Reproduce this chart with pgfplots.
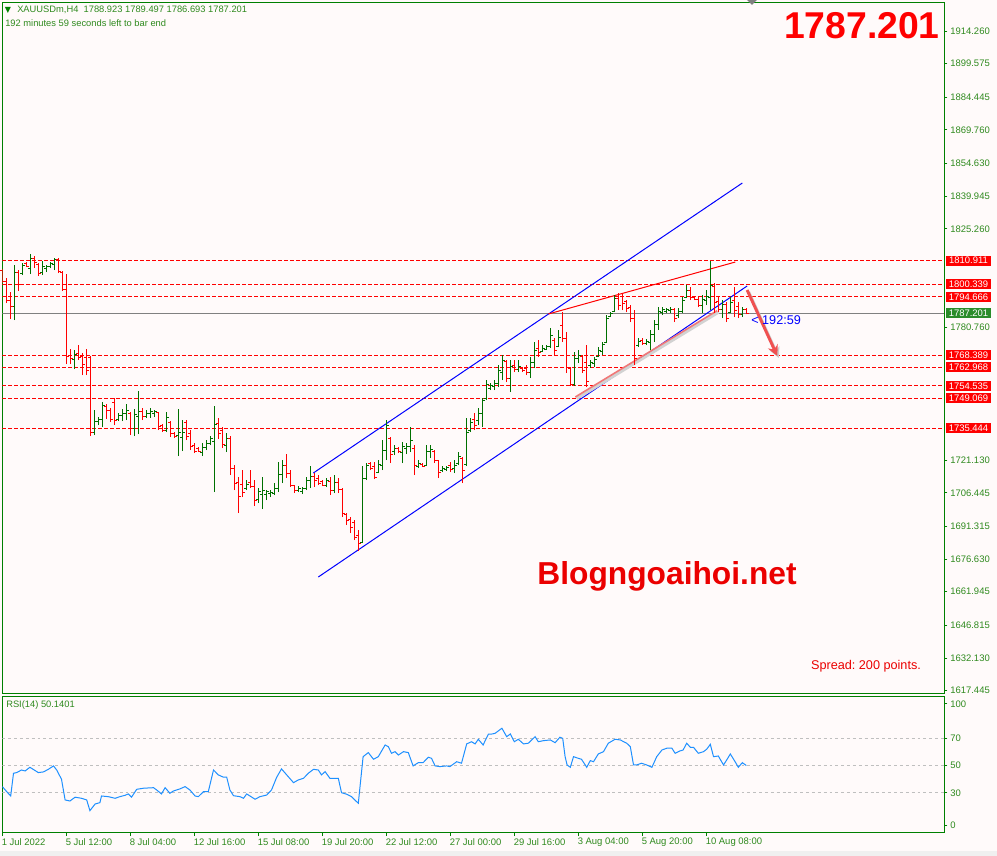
\documentclass[border=0pt]{standalone}
\usepackage{fontspec}
\setmainfont{Liberation Sans}
\newfontfamily\dejavu{DejaVu Sans}
\usepackage{pgfplots}
\usepackage{pgfplotstable}
\pgfplotsset{compat=1.18}
\usetikzlibrary{arrows.meta}

\definecolor{bg}{HTML}{FFFAFA}
\definecolor{fg}{HTML}{008000}
\definecolor{lbl}{HTML}{2F8A1E}
\definecolor{bull}{HTML}{007000}
\definecolor{bear}{HTML}{FF0000}
\definecolor{rsiblue}{HTML}{1E90FF}
\definecolor{arrowred}{HTML}{F05050}
\definecolor{pinkline}{HTML}{F07878}
\definecolor{pricebox}{HTML}{2A8C2A}

% H4 bars: index, open, high, low, close
\pgfplotstableread{
i o h l c
0 1806.70 1807.15 1800.85 1801.75
1 1801.75 1803.10 1791.85 1793.20
2 1793.20 1796.80 1784.65 1790.50
3 1790.50 1808.95 1784.20 1805.80
4 1805.80 1806.70 1797.25 1800.40
5 1805.35 1809.85 1804.45 1808.95
6 1809.85 1810.30 1808.05 1808.50
7 1807.60 1813.90 1804.90 1812.10
8 1812.10 1813.00 1807.60 1810.30
9 1809.40 1809.85 1804.00 1805.35
10 1805.80 1810.75 1804.45 1808.50
11 1807.60 1808.95 1805.80 1808.50
12 1808.50 1810.30 1807.60 1809.85
13 1809.40 1812.10 1806.70 1811.65
14 1811.65 1812.10 1805.35 1806.25
15 1805.80 1806.25 1797.25 1798.15
16 1798.15 1804.90 1764.40 1768.00
17 1768.45 1771.15 1764.40 1767.10
18 1766.65 1770.70 1762.15 1768.90
19 1769.35 1772.95 1766.20 1767.55
20 1768.00 1769.35 1759.45 1764.40
21 1767.55 1771.15 1759.45 1761.70
22 1767.55 1768.00 1732.00 1733.80
23 1733.80 1743.70 1732.45 1738.75
24 1738.75 1740.55 1736.95 1739.65
25 1739.65 1747.30 1736.05 1745.95
26 1745.50 1746.40 1739.65 1743.70
27 1743.70 1744.60 1738.30 1739.65
28 1747.30 1749.10 1736.95 1739.20
29 1739.65 1742.35 1738.75 1741.45
30 1741.45 1744.15 1738.75 1742.35
31 1742.35 1746.40 1739.20 1743.70
32 1742.35 1742.80 1732.45 1735.60
33 1735.60 1744.15 1732.00 1741.90
34 1741.00 1752.25 1732.90 1743.25
35 1743.25 1744.60 1739.20 1741.00
36 1741.00 1743.70 1740.10 1742.35
37 1742.35 1744.60 1740.10 1743.25
38 1742.35 1743.70 1740.55 1743.25
39 1742.80 1742.80 1734.70 1736.50
40 1736.95 1737.40 1733.80 1734.70
41 1734.70 1742.80 1733.80 1740.55
42 1738.30 1738.75 1731.55 1733.35
43 1733.35 1733.80 1731.10 1732.00
44 1732.45 1744.15 1723.00 1733.80
45 1731.55 1739.20 1725.25 1733.80
46 1738.30 1739.20 1730.20 1732.00
47 1733.35 1734.70 1725.70 1727.50
48 1727.95 1728.85 1724.35 1725.25
49 1726.60 1727.05 1724.80 1725.25
50 1724.80 1728.85 1723.00 1727.05
51 1727.05 1730.20 1725.70 1728.85
52 1728.85 1732.00 1727.95 1731.10
53 1729.75 1745.50 1706.80 1737.40
54 1737.85 1740.10 1730.65 1733.35
55 1734.70 1736.05 1726.60 1728.40
56 1727.95 1733.35 1724.80 1731.10
57 1731.10 1732.00 1714.45 1717.60
58 1717.60 1718.95 1707.70 1710.85
59 1711.30 1713.55 1697.35 1705.00
60 1710.40 1716.70 1704.55 1706.80
61 1708.60 1712.20 1707.70 1710.40
62 1711.30 1716.70 1708.60 1709.50
63 1709.50 1712.20 1700.50 1703.20
64 1703.65 1708.60 1701.85 1707.25
65 1705.90 1713.55 1699.15 1707.70
66 1705.90 1707.70 1703.20 1707.25
67 1706.35 1707.70 1704.55 1706.80
68 1706.35 1710.85 1705.45 1708.60
69 1708.60 1720.30 1706.80 1714.90
70 1714.90 1721.20 1710.85 1718.95
71 1718.95 1723.90 1713.10 1715.35
72 1715.35 1716.70 1709.05 1709.95
73 1709.95 1709.95 1706.35 1707.70
74 1707.70 1709.50 1706.80 1708.60
75 1707.25 1709.05 1705.90 1708.60
76 1708.60 1713.55 1707.70 1712.20
77 1712.20 1718.50 1708.60 1714.00
78 1714.00 1715.35 1709.05 1712.20
79 1713.10 1714.45 1709.95 1710.85
80 1711.75 1712.20 1709.50 1709.95
81 1709.95 1713.10 1709.05 1712.20
82 1711.75 1713.55 1705.45 1707.70
83 1707.70 1714.45 1706.35 1711.30
84 1711.30 1713.10 1706.35 1708.15
85 1708.15 1708.60 1695.55 1697.35
86 1696.90 1697.35 1691.95 1694.20
87 1694.65 1695.55 1688.35 1691.05
88 1693.30 1694.20 1685.20 1686.55
89 1687.45 1689.70 1680.25 1683.85
90 1684.30 1718.50 1683.85 1713.10
91 1713.10 1719.85 1712.20 1718.95
92 1719.85 1720.30 1716.70 1717.60
93 1718.50 1720.30 1712.65 1713.55
94 1715.80 1721.20 1715.35 1719.40
95 1718.95 1730.20 1716.70 1725.70
96 1725.70 1739.20 1721.20 1736.95
97 1731.10 1731.55 1719.85 1723.90
98 1725.25 1727.95 1723.45 1726.60
99 1726.60 1727.05 1724.35 1725.25
100 1724.80 1729.30 1719.85 1727.50
101 1726.60 1728.85 1723.90 1727.50
102 1727.50 1736.05 1724.80 1730.20
103 1726.60 1727.95 1714.45 1718.95
104 1718.50 1721.20 1717.60 1719.85
105 1719.40 1719.85 1718.05 1718.50
106 1718.95 1727.95 1718.50 1725.25
107 1725.25 1727.95 1722.10 1726.15
108 1725.25 1725.70 1719.85 1721.20
109 1721.20 1721.20 1713.10 1715.80
110 1716.70 1718.50 1715.80 1717.60
111 1717.15 1718.50 1716.25 1718.05
112 1718.95 1720.30 1715.80 1717.15
113 1717.60 1721.20 1715.35 1718.95
114 1719.85 1724.80 1718.95 1723.00
115 1722.10 1722.55 1710.85 1716.70
116 1719.40 1740.10 1718.50 1733.80
117 1734.70 1740.10 1733.80 1738.30
118 1739.65 1742.35 1734.70 1736.95
119 1739.20 1744.60 1736.95 1742.35
120 1742.35 1749.10 1736.05 1748.20
121 1749.10 1757.20 1748.20 1755.40
122 1753.60 1755.85 1752.70 1754.95
123 1754.50 1757.20 1752.70 1755.85
124 1755.85 1763.95 1754.05 1761.70
125 1760.80 1768.45 1757.20 1766.20
126 1765.75 1766.20 1756.30 1758.10
127 1758.10 1766.20 1751.80 1763.50
128 1763.95 1766.20 1760.80 1762.15
129 1762.15 1766.20 1760.80 1763.50
130 1762.60 1763.05 1760.80 1761.70
131 1762.60 1763.95 1759.45 1760.80
132 1760.80 1767.55 1758.10 1765.30
133 1765.30 1774.30 1762.60 1770.70
134 1771.60 1775.20 1767.55 1769.80
135 1770.25 1772.95 1769.80 1771.60
136 1771.15 1772.95 1770.70 1772.50
137 1772.50 1780.60 1771.60 1777.45
138 1775.20 1776.10 1768.45 1770.70
139 1772.50 1779.70 1772.05 1776.55
140 1781.95 1787.80 1774.30 1776.10
141 1776.10 1778.80 1760.35 1763.05
142 1762.60 1763.05 1754.50 1755.40
143 1755.40 1769.80 1754.50 1767.10
144 1767.10 1770.70 1764.85 1768.45
145 1768.00 1768.45 1760.35 1761.70
146 1765.30 1772.95 1754.05 1756.75
147 1763.95 1766.20 1762.60 1765.30
148 1764.85 1767.55 1763.05 1766.65
149 1768.00 1772.05 1767.55 1770.70
150 1770.25 1774.30 1768.45 1773.40
151 1774.30 1786.45 1773.85 1785.10
152 1786.00 1787.80 1785.55 1787.35
153 1788.25 1795.45 1787.80 1794.10
154 1794.10 1796.35 1788.70 1790.95
155 1795.00 1796.35 1788.70 1791.85
156 1792.75 1793.20 1787.80 1789.60
157 1790.05 1790.95 1783.30 1785.10
158 1785.10 1788.70 1763.95 1767.10
159 1772.95 1776.10 1772.05 1774.75
160 1775.20 1776.10 1772.95 1773.85
161 1773.85 1775.65 1772.95 1774.75
162 1774.30 1779.70 1770.70 1777.90
163 1777.90 1784.20 1774.30 1782.40
164 1782.40 1790.05 1779.70 1788.25
165 1787.80 1790.05 1786.45 1789.15
166 1788.25 1789.60 1787.35 1789.15
167 1788.70 1790.05 1787.35 1789.15
168 1789.15 1789.60 1783.30 1785.10
169 1786.45 1789.60 1785.10 1788.25
170 1788.25 1794.55 1787.35 1793.20
171 1794.55 1799.95 1794.10 1797.70
172 1797.70 1799.05 1793.20 1794.55
173 1794.55 1794.55 1793.20 1793.65
174 1793.65 1794.55 1790.05 1790.95
175 1790.95 1795.45 1787.35 1793.65
176 1793.20 1797.70 1790.95 1795.00
177 1794.55 1810.75 1788.70 1799.95
178 1799.50 1800.85 1787.35 1792.30
179 1792.75 1794.55 1787.80 1789.15
180 1789.15 1793.20 1785.10 1791.40
181 1791.40 1792.30 1783.30 1785.10
182 1787.80 1794.55 1787.35 1792.30
183 1793.20 1799.05 1785.55 1788.70
184 1790.50 1792.30 1785.10 1786.90
185 1786.90 1790.05 1785.55 1789.15
186 1788.923 1789.497 1786.693 1787.201
}\bars

% RSI(14)
\pgfplotstableread{
i v
0 34.6
1.1 30.9
2.1 27.7
2.8 44.4
3.6 44.9
4.8 46.8
5.7 46.1
6.9 48.8
8.2 46.4
9.0 44.9
10.3 45.4
11.5 47.3
12.8 49.8
13.6 46.8
14.8 40.0
15.7 24.8
16.9 24.0
18.2 26.8
19.8 26.0
21.1 24.8
21.9 16.9
23.2 21.8
24.4 22.8
24.8 27.7
26.5 27.2
28.2 26.0
29.4 27.2
30.7 28.2
31.5 29.2
32.3 26.8
33.6 32.6
35.3 33.4
37.8 33.8
38.6 32.1
39.8 29.2
40.7 33.8
41.9 29.7
42.8 31.4
44.4 32.9
45.7 34.6
46.9 32.1
48.2 27.7
49.0 27.2
50.3 30.9
51.5 30.9
52.8 46.8
54.0 43.2
55.3 41.5
56.1 41.5
56.9 32.1
57.8 27.9
59.4 27.2
60.3 26.0
61.1 29.2
63.2 25.3
64.4 27.2
66.1 28.4
67.3 32.1
68.6 41.5
69.8 47.6
71.1 43.2
72.8 37.5
74.0 39.5
75.3 40.7
76.5 44.4
77.8 47.3
79.0 46.8
79.8 43.2
80.7 45.6
81.9 40.7
84.0 40.7
84.8 30.1
86.1 29.0
87.3 27.2
89.0 22.3
90.2 56.6
91.5 59.6
92.8 54.7
94.0 56.6
95.7 65.2
96.5 64.0
97.3 59.1
98.2 60.3
99.0 57.8
100.3 60.3
101.5 59.6
102.7 49.8
104.0 52.2
105.2 52.2
106.5 56.2
107.3 55.4
108.2 49.8
109.4 49.3
111.1 49.8
111.9 49.3
113.6 52.9
114.8 51.8
116.1 66.0
117.3 67.6
118.2 66.0
119.0 69.4
120.2 65.2
121.5 73.1
122.5 73.3
123.2 73.8
124.9 77.5
126.1 71.3
127.0 73.3
128.0 67.6
129.0 69.4
130.3 66.0
131.5 66.5
133.2 71.3
134.0 67.6
135.3 68.4
137.0 68.9
138.2 66.9
139.4 70.9
140.1 70.1
140.7 56.6
141.2 50.5
142.0 48.8
142.8 56.6
144.0 55.4
144.8 54.7
146.1 48.8
147.0 53.7
147.8 52.9
149.0 58.6
150.3 60.3
151.5 66.5
153.2 69.4
154.5 68.9
156.1 66.5
157.0 64.0
157.8 50.5
158.6 50.5
159.8 51.8
161.1 50.5
162.4 48.8
163.6 56.6
164.9 61.5
166.1 62.8
167.4 62.8
168.2 59.1
169.4 60.8
170.2 61.5
171.1 66.5
172.0 63.5
172.8 63.5
174.0 59.1
175.3 60.3
176.1 62.1
177.0 65.7
177.8 56.6
179.0 57.1
180.3 50.5
181.1 54.2
182.0 58.6
183.2 52.9
184.0 48.8
185.0 52.2
186.0 50.1
}\rsi

\newcommand{\tl}{\fontsize{7.1}{8}\selectfont}

\begin{document}
\frenchspacing
\begin{tikzpicture}
\path[use as bounding box, fill=bg] (0,0) rectangle (747.75pt,642pt);
\fill[black!6] (0,0) rectangle (747.75pt,3.75pt);

% ---------- price pane ----------
\begin{axis}[
  name=main, at={(1.725pt,121.5pt)}, anchor=south west,
  scale only axis, width=706.3pt, height=518.8pt,
  xmin=0, xmax=235.43, ymin=1615.9, ymax=1927.2,
  axis line style={draw=fg, line width=0.75pt},
  xtick=\empty,
  ytick={1914.26,1899.575,1884.445,1869.76,1854.63,1839.945,1825.26,1780.76,1721.13,1706.445,1691.315,1676.63,1661.945,1646.815,1632.13,1617.445},
  yticklabels={1914.260,1899.575,1884.445,1869.760,1854.630,1839.945,1825.260,1780.760,1721.130,1706.445,1691.315,1676.630,1661.945,1646.815,1632.130,1617.445},
  ytick pos=right, yticklabel pos=right,
  tick align=outside, major tick length=2.5pt,
  tick style={draw=fg, line width=0.6pt},
  yticklabel style={font=\tl, text=lbl, anchor=west, inner sep=0pt, xshift=2pt},
  clip mode=individual,
]
% support / resistance levels
\pgfplotsinvokeforeach{1810.911,1800.339,1794.666,1768.389,1762.968,1754.535,1749.069,1735.444}{
  \addplot[bear, line width=0.75pt, dash pattern=on 2.6pt off 1.9pt] coordinates {(0,#1) (235.43,#1)};
}
\addplot[gray, line width=0.75pt] coordinates {(0,1787.201) (235.43,1787.201)};

% channel
\addplot[blue, line width=0.75pt] coordinates {(77.75,1715.35) (185.0,1845.85)};
\addplot[blue, line width=0.75pt] coordinates {(79.0,1668.55) (186.2,1799.5)};
% wedge
\addplot[bear, line width=0.75pt] coordinates {(136.5,1786.9) (183.25,1810.3)};
\addplot[gray!35, line width=2.2pt, xshift=1pt, yshift=-1.2pt] coordinates {(143.25,1749.55) (178.7,1788.4)};
\addplot[pinkline, line width=1.2pt] coordinates {(143.25,1749.55) (178.7,1788.4)};

% OHLC bars: up
\addplot[quiver={u=0, v=\thisrow{h}-\thisrow{l}}, draw=bull, line width=1pt,
  restrict expr to domain={\thisrow{c}-\thisrow{o}}{0:10000}] table[x=i, y=l] {\bars};
\addplot[only marks, mark=-, mark size=0.8pt, mark options={xshift=-1.1pt, draw=bull, line width=0.75pt},
  restrict expr to domain={\thisrow{c}-\thisrow{o}}{0:10000}] table[x=i, y=o] {\bars};
\addplot[only marks, mark=-, mark size=0.8pt, mark options={xshift=1.1pt, draw=bull, line width=0.75pt},
  restrict expr to domain={\thisrow{c}-\thisrow{o}}{0:10000}] table[x=i, y=c] {\bars};
% OHLC bars: down
\addplot[quiver={u=0, v=\thisrow{h}-\thisrow{l}}, draw=bear, line width=1pt,
  restrict expr to domain={\thisrow{c}-\thisrow{o}}{-10000:-0.0001}] table[x=i, y=l] {\bars};
\addplot[only marks, mark=-, mark size=0.8pt, mark options={xshift=-1.1pt, draw=bear, line width=0.75pt},
  restrict expr to domain={\thisrow{c}-\thisrow{o}}{-10000:-0.0001}] table[x=i, y=o] {\bars};
\addplot[only marks, mark=-, mark size=0.8pt, mark options={xshift=1.1pt, draw=bear, line width=0.75pt},
  restrict expr to domain={\thisrow{c}-\thisrow{o}}{-10000:-0.0001}] table[x=i, y=c] {\bars};

% forecast arrow
\addplot[gray!40, line width=2.2pt, xshift=1.2pt, yshift=-1.5pt, -{Stealth[length=8pt,width=8pt]}] coordinates {(186.2,1797.7) (193.75,1768.0)};
\addplot[arrowred, line width=2.2pt, -{Stealth[length=8pt,width=8pt]}] coordinates {(186.2,1797.7) (193.75,1768.0)};

% right-hand price labels
\pgfplotsinvokeforeach{1810.911,1800.339,1794.666,1768.389,1762.968,1754.535,1749.069,1735.444}{
  \node[fill=bear, text=white, font=\tl, anchor=west, inner sep=0pt, minimum width=33.5pt, minimum height=7.6pt, xshift=1.4pt] at (axis cs:235.43,#1) {#1};
}
\node[fill=pricebox, text=white, font=\tl, anchor=west, inner sep=0pt, minimum width=33.5pt, minimum height=7.6pt, xshift=1.4pt] at (axis cs:235.43,1787.201) {1787.201};
\end{axis}

% ---------- RSI pane ----------
\begin{axis}[
  name=rsi, at={(1.725pt,17.475pt)}, anchor=south west,
  scale only axis, width=706.3pt, height=102.5pt,
  xmin=0, xmax=235.43, ymin=0.7, ymax=101.2,
  axis line style={draw=fg, line width=0.75pt},
  xtick={0,16,...,176},
  xticklabels={1 Jul 2022,5 Jul 12:00,8 Jul 04:00,12 Jul 16:00,15 Jul 08:00,19 Jul 20:00,22 Jul 12:00,27 Jul 00:00,29 Jul 16:00,3 Aug 04:00,5 Aug 20:00,10 Aug 08:00},
  xtick pos=bottom, xticklabel pos=bottom,
  ytick={6,30,50,70,95.5}, yticklabels={0,30,50,70,100},
  ytick pos=right, yticklabel pos=right,
  tick align=outside, major tick length=2.5pt,
  tick style={draw=fg, line width=0.6pt},
  yticklabel style={font=\tl, text=lbl, anchor=west, inner sep=0pt, xshift=2pt},
  xticklabel style={font=\tl, text=lbl, anchor=north west, inner sep=0pt, xshift=-0.6pt, yshift=-1.5pt},
  clip mode=individual,
]
\pgfplotsinvokeforeach{30,50,70}{
  \addplot[gray!50, line width=0.6pt, dash pattern=on 2.2pt off 2.2pt] coordinates {(0,#1) (235.43,#1)};
}
\addplot[rsiblue, line width=0.75pt] table[x=i, y=v] {\rsi};
\end{axis}

% ---------- overlay text (pixel coordinates, y downwards) ----------
\begin{scope}[x=0.75pt, y=-0.75pt, yshift=642pt]
  \fill[gray] (747,0) -- (757,0) -- (752,5) -- cycle;
  \node[anchor=west, text=fg, inner sep=0pt, font=\dejavu\fontsize{6}{7}\selectfont] at (4.5,10) {▼};
  \node[anchor=west, text=lbl, inner sep=0pt, font=\fontsize{7}{8}\selectfont] at (17,10) {XAUUSDm,H4\ \ 1788.923 1789.497 1786.693 1787.201};
  \node[anchor=west, text=lbl, inner sep=0pt, font=\fontsize{7}{8}\selectfont] at (5,23) {192 minutes 59 seconds left to bar end};
  \node[anchor=west, text=lbl, inner sep=0pt, font=\fontsize{7}{8}\selectfont] at (6,705) {RSI(14) 50.1401};
  \node[anchor=east, text=bear, inner sep=0pt, font=\bfseries\fontsize{28}{30}\selectfont] at (940,26) {1787.201};
  \node[anchor=west, text=blue, inner sep=0pt, font=\fontsize{9.5}{11}\selectfont] at (751,320) {< 192:59};
  \node[anchor=base, text=bear!92!black, inner sep=0pt, font=\bfseries\fontsize{23.8}{26}\selectfont] at (667,585) {Blogngoaihoi.net};
  \node[anchor=base, text=bear!92!black, inner sep=0pt, font=\fontsize{9.5}{11}\selectfont] at (866,670) {Spread: 200 points.};
\end{scope}
\end{tikzpicture}
\end{document}
